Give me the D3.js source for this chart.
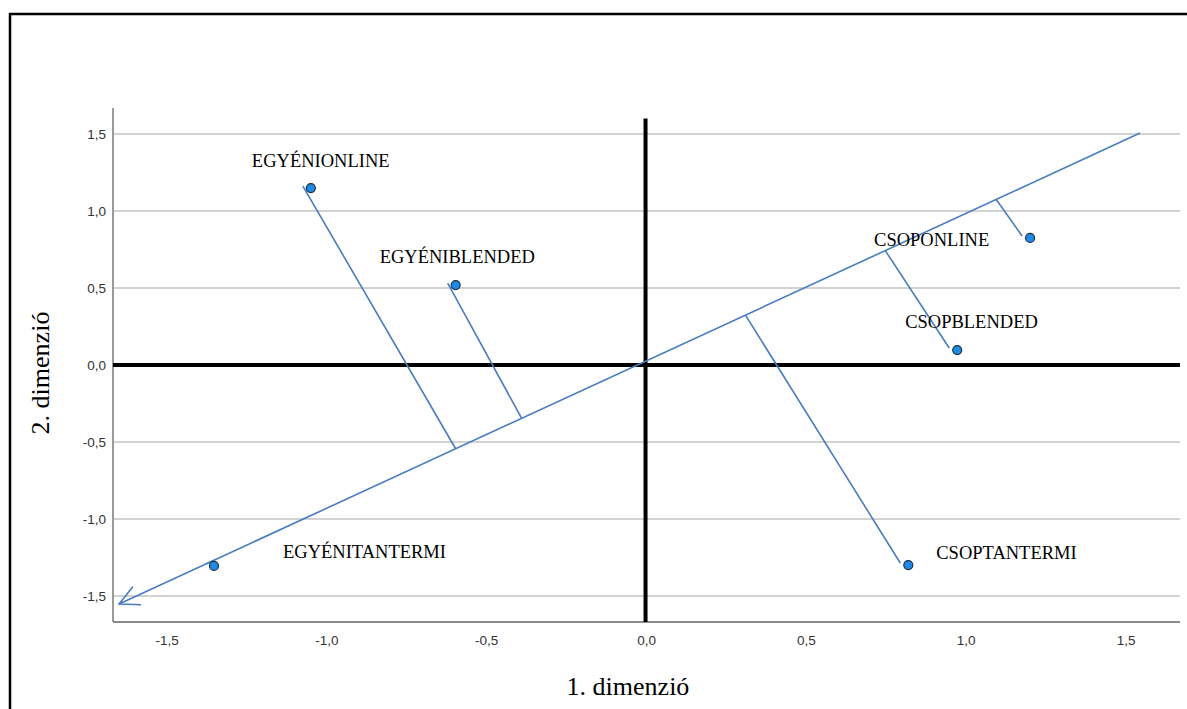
<!DOCTYPE html>
<html>
<head>
<meta charset="UTF-8">
<style>
    body { margin: 0; background: #fff; }
    svg { display: block; }
    .tick-label { font-family: "Liberation Sans", Arial, sans-serif; font-size: 13.5px; fill: #333; }
    .pt-label { font-family: "Liberation Serif", "Times New Roman", serif; font-size: 18.5px; fill: #000; }
    .axis-title { font-family: "Liberation Serif", "Times New Roman", serif; font-size: 26px; fill: #000; }
</style>
</head>
<body>
<svg width="1187" height="709"></svg>
<script src="https://d3js.org/d3.v7.min.js"></script>
<script>

// category points (dimension 1, dimension 2)
let names = ["EGYÉNIONLINE", "EGYÉNIBLENDED", "EGYÉNITANTERMI", "CSOPONLINE", "CSOPBLENDED", "CSOPTANTERMI"]
let dim1 = [-1.047, -0.594, -1.35, 1.203, 0.975, 0.822]
let dim2 = [1.149, 0.519, -1.305, 0.825, 0.097, -1.299]
// where each point projects on the vector (dimension 1 of the foot)
let projDim1 = [-0.594, -0.3875, -1.35, 1.097, 0.75, 0.3125]

// the vector line: tail and arrow head
let vecTail = [1.547, 1.506]
let vecHead = [-1.647, -1.552]

let ticks = [-1.5, -1.0, -0.5, 0.0, 0.5, 1.0, 1.5]

// label placement, px from the point (text starts here)
let labelOffsets = [[-59, -21], [-76, -22], [69, -8], [-156, 8], [-52, -22], [28, -6]]

let svg = d3.select("svg")
let fmt = d => d3.format(".1f")(d).replace(".", ",").replace("−", "-")

let x = d3.scaleLinear().domain([-1.666, 1.672]).range([113, 1180])
let y = d3.scaleLinear().domain([-1.669, 1.669]).range([622, 108])

// outer frame (top + left only)
svg.append("line").attr("x1", 9).attr("x2", 1187).attr("y1", 14).attr("y2", 14)
    .style("stroke", "#000").style("stroke-width", 2.5)
svg.append("line").attr("x1", 10).attr("x2", 10).attr("y1", 13).attr("y2", 709)
    .style("stroke", "#000").style("stroke-width", 2.5)

// horizontal gridlines
svg.append("g").selectAll("line").data(ticks).enter().append("line")
    .attr("x1", x.range()[0]).attr("x2", x.range()[1])
    .attr("y1", d => y(d)).attr("y2", d => y(d))
    .style("stroke", "#d2d2d2").style("stroke-width", 2)

// axes lines
svg.append("line").attr("x1", x.range()[0]).attr("x2", x.range()[0]).attr("y1", y.range()[1]).attr("y2", y.range()[0])
    .style("stroke", "#9a9a9a").style("stroke-width", 2)
svg.append("line").attr("x1", x.range()[0]).attr("x2", x.range()[1]).attr("y1", y.range()[0]).attr("y2", y.range()[0])
    .style("stroke", "#8c8c8c").style("stroke-width", 2)

// tick labels
svg.append("g").selectAll("text").data(ticks).enter().append("text")
    .attr("class", "tick-label")
    .attr("x", 106).attr("y", d => y(d)).attr("dy", "0.35em")
    .attr("text-anchor", "end")
    .text(fmt)
svg.append("g").selectAll("text").data(ticks).enter().append("text")
    .attr("class", "tick-label")
    .attr("x", d => x(d) + 1).attr("y", 645)
    .attr("text-anchor", "middle")
    .text(fmt)

// thick reference lines through 0
svg.append("line").attr("x1", x.range()[0]).attr("x2", x.range()[1]).attr("y1", y(0)).attr("y2", y(0))
    .style("stroke", "#000").style("stroke-width", 4)
svg.append("line").attr("x1", x(0)).attr("x2", x(0)).attr("y1", y(1.6)).attr("y2", y.range()[0])
    .style("stroke", "#000").style("stroke-width", 4)

let lineColor = "#4a7cc0"

// arrow marker (open V)
svg.append("defs").append("marker")
    .attr("id", "arrow")
    .attr("viewBox", "0 -11 22 22")
    .attr("refX", 20).attr("refY", 0)
    .attr("markerWidth", 22).attr("markerHeight", 22)
    .attr("markerUnits", "userSpaceOnUse")
    .attr("orient", "auto")
  .append("path")
    .attr("d", "M0,-10L20,0L0,10")
    .style("fill", "none").style("stroke", lineColor).style("stroke-width", 1.6)

// vector line
svg.append("line")
    .attr("x1", x(vecTail[0])).attr("y1", y(vecTail[1]))
    .attr("x2", x(vecHead[0])).attr("y2", y(vecHead[1]))
    .attr("marker-end", "url(#arrow)")
    .style("stroke", lineColor).style("stroke-width", 1.6)

let slope = (vecTail[1] - vecHead[1]) / (vecTail[0] - vecHead[0])
let footY = fx => vecHead[1] + slope * (fx - vecHead[0])

// projection lines
svg.append("g").selectAll("line").data(names).enter().append("line")
    .attr("x1", (d, i) => x(dim1[i]) - 8).attr("y1", (d, i) => y(dim2[i]) - 2)
    .attr("x2", (d, i) => x(projDim1[i])).attr("y2", (d, i) => y(footY(projDim1[i])))
    .style("stroke", lineColor).style("stroke-width", 1.6)

// points
svg.append("g").selectAll("circle").data(names).enter().append("circle")
    .attr("cx", (d, i) => x(dim1[i])).attr("cy", (d, i) => y(dim2[i]))
    .attr("r", 4.5)
    .style("fill", "#1f8ae6").style("stroke", "#1b2f45").style("stroke-width", 1.2)

// point labels
svg.append("g").selectAll("text").data(names).enter().append("text")
    .attr("class", "pt-label")
    .attr("x", (d, i) => x(dim1[i]) + labelOffsets[i][0])
    .attr("y", (d, i) => y(dim2[i]) + labelOffsets[i][1])
    .text(d => d)

// axis titles
svg.append("text").attr("class", "axis-title")
    .attr("x", 628).attr("y", 695).attr("text-anchor", "middle")
    .text("1. dimenzió")
svg.append("text").attr("class", "axis-title")
    .attr("transform", "translate(49,373) rotate(-90)").attr("text-anchor", "middle")
    .text("2. dimenzió")

</script>
</body>
</html>
